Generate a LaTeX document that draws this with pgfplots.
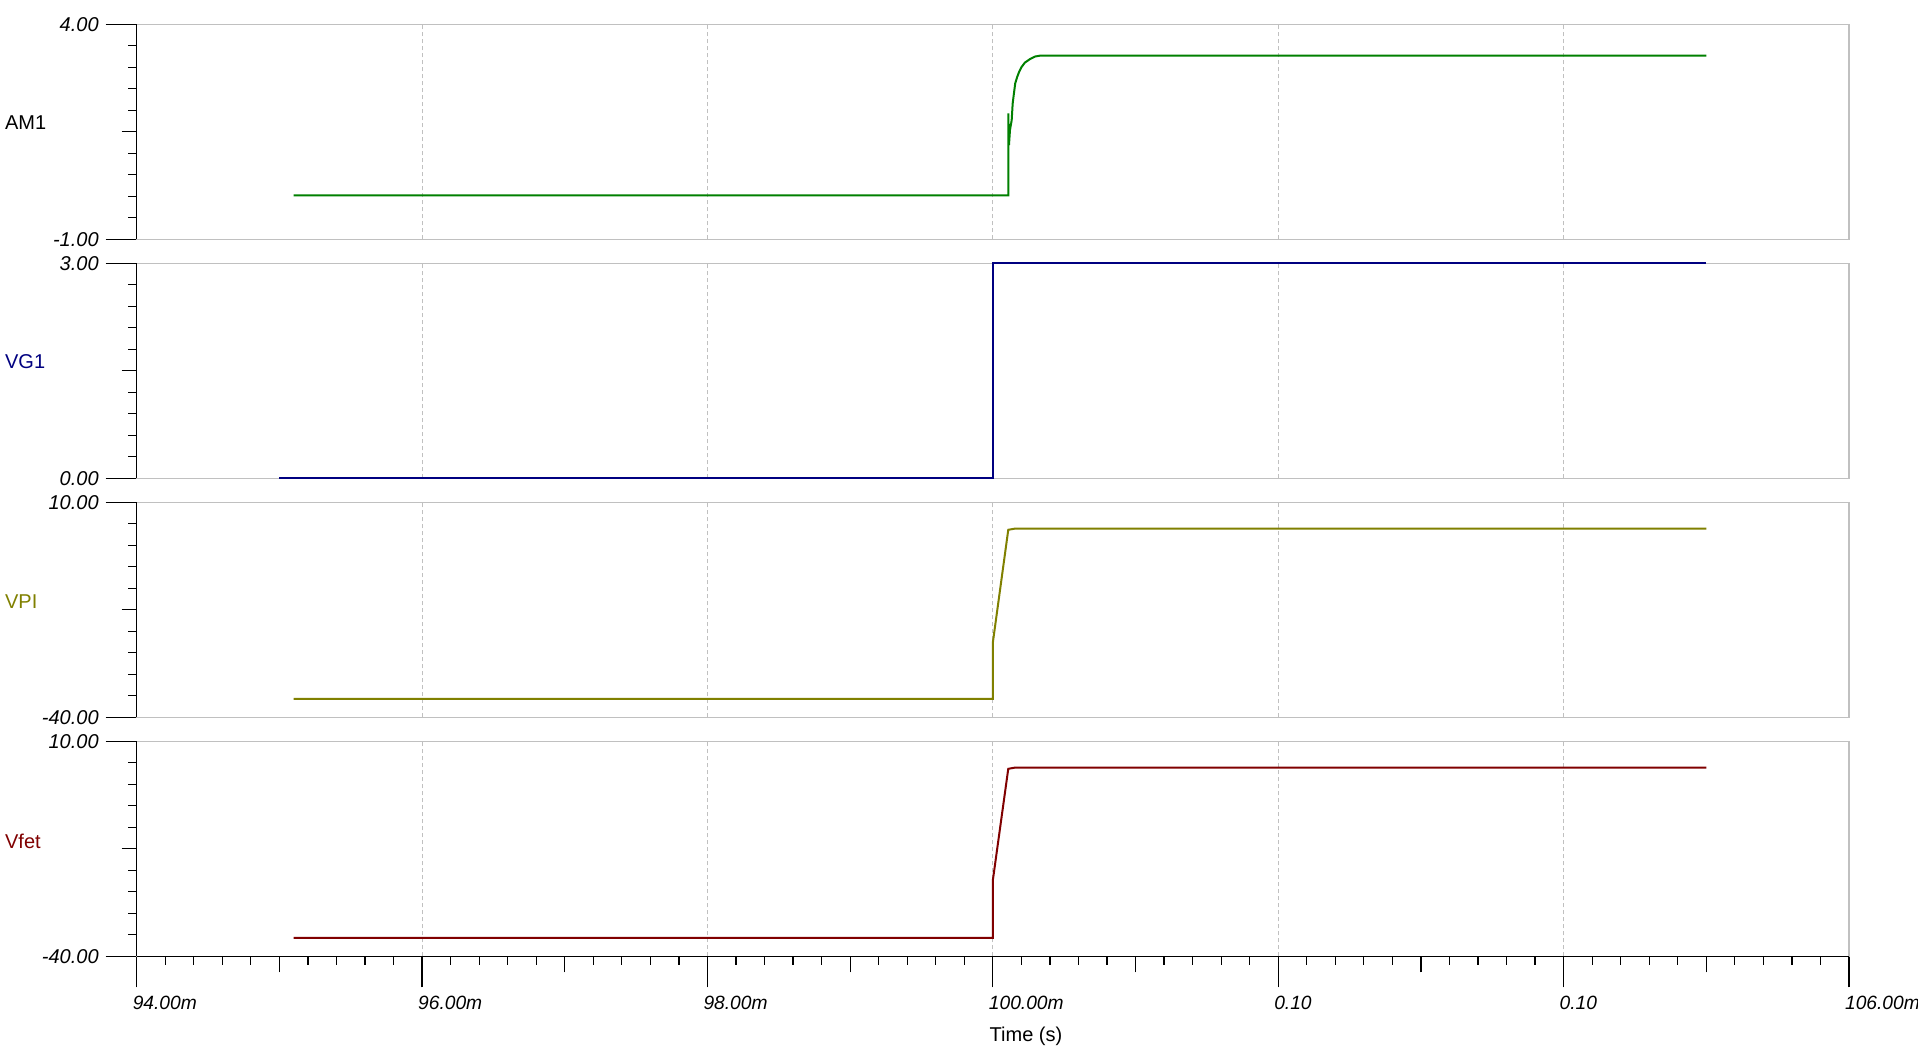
\documentclass[border=0pt]{standalone}
\usepackage{fontspec}
\setmainfont{Liberation Sans}
\usepackage{pgfplots}
\pgfplotsset{compat=1.18}
\definecolor{gridgray}{RGB}{192,192,192}
\definecolor{amgreen}{RGB}{0,128,0}
\definecolor{vgblue}{RGB}{0,0,128}
\definecolor{vpiolive}{RGB}{128,128,0}
\definecolor{vfetred}{RGB}{128,0,0}

\pgfplotsset{
 panel/.style={
  scale only axis, width=856.15pt, height=107.5pt,
  anchor=south west,
  xmin=94, xmax=106,
  xtick={94,96,...,106},
  tick pos=left,
  xmajorgrids, grid style={gridgray, dash pattern=on 2pt off 1.5pt, line width=0.5pt},
  axis line style={gridgray, line width=0.6pt},
  tick align=outside,
  major tick length=15.5pt, minor tick length=4.25pt,
  tick style={black, line width=0.6pt},
  ticklabel style={font=\fontsize{10}{12}\selectfont\itshape},
  minor y tick num=9,
  extra y tick labels={},
  extra y tick style={major tick length=7.5pt},
  clip=false,
 },
 upper/.style={xticklabels={}, xtick style={draw=none}},
}

\begin{document}
\begin{tikzpicture}
\useasboundingbox (0,0) rectangle (959pt,529pt);

% AM1
\begin{axis}[panel, upper, at={(68.35pt,409.35pt)},
  ymin=-1, ymax=4, ytick={-1,4}, yticklabels={-1.00,4.00}, extra y ticks={1.5}]
\addplot[amgreen, line width=1pt] coordinates {
(95.1,0.02) (100.108,0.02) (100.108,1.93) (100.113,1.19) (100.120,1.54)
(100.132,1.77) (100.139,2.16) (100.148,2.40) (100.157,2.63) (100.171,2.78)
(100.185,2.90) (100.202,3.01) (100.225,3.11) (100.260,3.19) (100.295,3.25)
(100.330,3.27) (105,3.27)};
\draw[black, line width=0.6pt] (rel axis cs:0,0) -- (rel axis cs:0,1);
\end{axis}

% VG1
\begin{axis}[panel, upper, at={(68.35pt,289.85pt)},
  ymin=0, ymax=3, ytick={0,3}, yticklabels={0.00,3.00}, extra y ticks={1.5}]
\addplot[vgblue, line width=1pt] coordinates {
(95.0,0) (100.0,0) (100.0,3) (105,3)};
\draw[black, line width=0.6pt] (rel axis cs:0,0) -- (rel axis cs:0,1);
\end{axis}

% VPI
\begin{axis}[panel, upper, at={(68.35pt,170.35pt)},
  ymin=-40, ymax=10, ytick={-40,10}, yticklabels={-40.00,10.00}, extra y ticks={-15}]
\addplot[vpiolive, line width=1pt] coordinates {
(95.1,-35.7) (100.0,-35.7) (100.0,-22.6) (100.108,3.6) (100.15,3.85) (105,3.85)};
\draw[black, line width=0.6pt] (rel axis cs:0,0) -- (rel axis cs:0,1);
\end{axis}

% Vfet
\begin{axis}[panel, at={(68.35pt,50.85pt)},
  ymin=-40, ymax=10, ytick={-40,10}, yticklabels={-40.00,10.00}, extra y ticks={-15},
  xticklabels={94.00m,96.00m,98.00m,100.00m,0.10,0.10,106.00m},
  xticklabel style={anchor=north west, xshift=-5.5pt, yshift=-1pt, font=\fontsize{9.6}{12}\selectfont\itshape},
  minor x tick num=9,
  extra x ticks={95,97,...,105}, extra x tick labels={},
  extra x tick style={major tick length=8pt, grid=none}]
\addplot[vfetred, line width=1pt] coordinates {
(95.1,-35.7) (100.0,-35.7) (100.0,-22.3) (100.108,3.6) (100.15,3.85) (105,3.85)};
\draw[black, line width=0.6pt] (rel axis cs:0,0) -- (rel axis cs:0,1);
\draw[black, line width=0.6pt] (rel axis cs:0,0) -- (rel axis cs:1,0);
\end{axis}

\node[anchor=west, inner sep=0pt, font=\fontsize{10}{12}\selectfont] at (2.35pt,467.5pt) {AM1};
\node[anchor=west, inner sep=0pt, font=\fontsize{10}{12}\selectfont, text=vgblue] at (2.35pt,348pt) {VG1};
\node[anchor=west, inner sep=0pt, font=\fontsize{10}{12}\selectfont, text=vpiolive] at (2.35pt,228.2pt) {VPI};
\node[anchor=west, inner sep=0pt, font=\fontsize{10}{12}\selectfont, text=vfetred] at (2.35pt,108.5pt) {Vfet};
\node[inner sep=0pt, font=\fontsize{10}{12}\selectfont] at (513pt,11pt) {Time (s)};
\end{tikzpicture}
\end{document}
